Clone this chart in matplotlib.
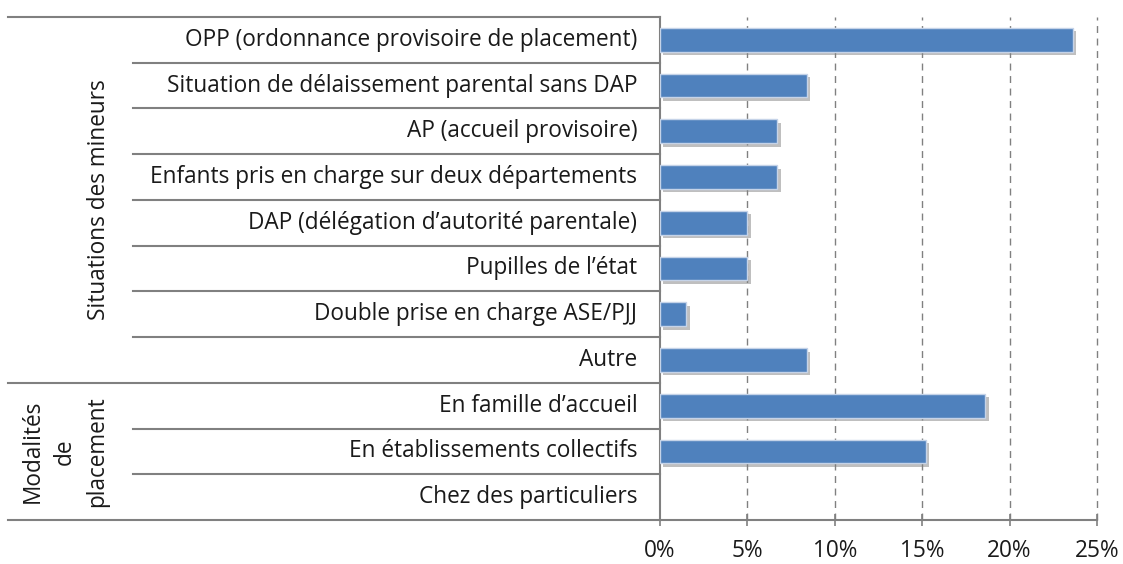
import numpy as np
import matplotlib
matplotlib.use("Agg")
import matplotlib.pyplot as plt
import matplotlib.patheffects as pe
from matplotlib.ticker import FuncFormatter

plt.rcParams['font.family'] = ['Open Sans', 'DejaVu Sans']

# data
categories = [
    "OPP (ordonnance provisoire de placement)",
    "Situation de délaissement parental sans DAP",
    "AP (accueil provisoire)",
    "Enfants pris en charge sur deux départements",
    "DAP (délégation d’autorité parentale)",
    "Pupilles de l’état",
    "Double prise en charge ASE/PJJ",
    "Autre",
    "En famille d’accueil",
    "En établissements collectifs",
    "Chez des particuliers",
]
values = [23.6, 8.4, 6.7, 6.7, 5.0, 5.0, 1.5, 8.4, 18.6, 15.2, 0.0]
groups = ["Situations des mineurs", "Modalités\nde\nplacement"]
group_sizes = [8, 3]

FS = 16.3

W, H = 1123, 564
fig = plt.figure(figsize=(W / 100, H / 100), dpi=100)
ax_l, ax_r, ax_t, ax_b = 660, 1097, 17, 520
ax = fig.add_axes([ax_l / W, 1 - ax_b / H, (ax_r - ax_l) / W, (ax_b - ax_t) / H])

y = np.arange(len(categories))
bars = ax.barh(y, values, height=0.52, color='#4f81bd', edgecolor='#c5d3e8',
               linewidth=1.0, zorder=3)
for b, v in zip(bars, values):
    if v > 0:
        b.set_path_effects([pe.SimplePatchShadow(offset=(2.5, -2.5), shadow_rgbFace='#808080', alpha=0.5),
                            pe.Normal()])
    else:
        b.set_linewidth(0)

ax.set_xlim(0, 25)
ax.set_ylim(len(categories) - 0.5, -0.5)
ax.set_xticks(np.arange(0, 26, 5))
ax.xaxis.set_major_formatter(FuncFormatter(lambda v, p: f"{v:.0f}%"))
ax.tick_params(axis='x', direction='inout', length=9, width=1.2, color='#808080',
               labelsize=FS, pad=9, labelcolor='#1a1a1a')
ax.set_yticks([])
for xv in range(5, 26, 5):
    ax.axvline(xv, color='#808080', linestyle=(0, (5, 4)), linewidth=1.0, zorder=1,
               clip_on=False)

for s in ['top', 'right']:
    ax.spines[s].set_visible(False)
for s in ['left', 'bottom']:
    ax.spines[s].set_color('#808080')
    ax.spines[s].set_linewidth(1.5)

# category labels
trans = ax.get_yaxis_transform()
for i, c in enumerate(categories):
    ax.text(-0.052, i, c, transform=trans, ha='right', va='center', fontsize=FS,
            color='#1a1a1a')

# separators
x_inner = (133 - ax_l) / (ax_r - ax_l)
x_outer = (8 - ax_l) / (ax_r - ax_l)
bounds = np.cumsum(group_sizes)
for k in range(len(categories) + 1):
    yb = k - 0.5
    if k == 0 or k == len(categories) or k in bounds:
        x0 = x_outer
    else:
        x0 = x_inner
    ax.plot([x0, 0], [yb, yb], transform=trans, color='#808080', linewidth=1.5,
            clip_on=False, zorder=4)

# group labels
start = 0
gx = [(99 - ax_l) / (ax_r - ax_l), (65 - ax_l) / (ax_r - ax_l)]
for g, n, xg in zip(groups, group_sizes, gx):
    yc = start + (n - 1) / 2
    ax.text(xg, yc, g, transform=trans, rotation=90, ha='center', va='center',
            fontsize=FS, color='#1a1a1a', multialignment='center', linespacing=1.45)
    start += n

fig.savefig("out.png", dpi=100)
